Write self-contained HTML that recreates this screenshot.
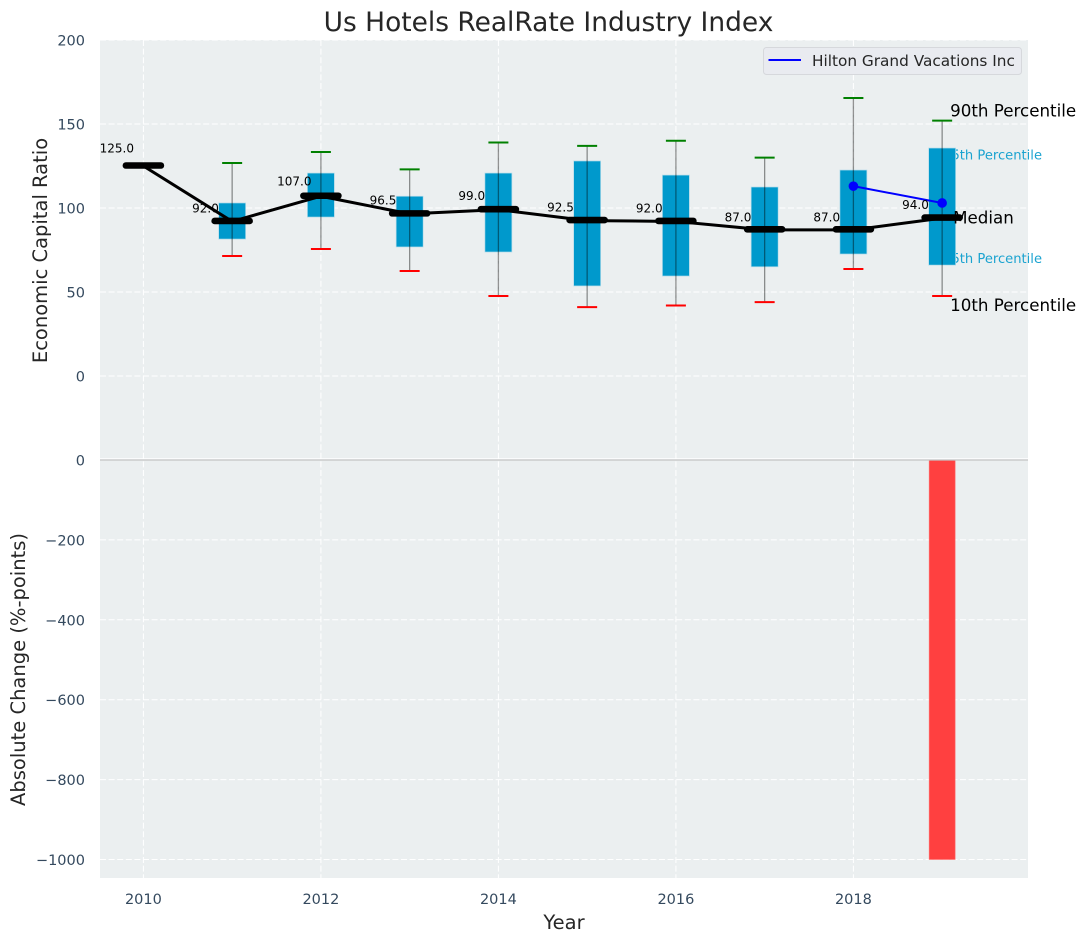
<!DOCTYPE html>
<html lang="en">
<head>
<meta charset="utf-8">
<title>Us Hotels RealRate Industry Index</title>
<style>
html,body{margin:0;padding:0;background:#fff;width:1085px;height:942px;overflow:hidden}
svg{display:block;font-family:"DejaVu Sans","Liberation Sans",sans-serif}
</style>
</head>
<body>
<svg id="chart" width="1085" height="942" viewBox="0 0 1085 942" xmlns="http://www.w3.org/2000/svg">
  <rect x="100" y="40" width="928" height="419.5" fill="#ebeff0"/>
  <rect x="100" y="459.5" width="928" height="418.5" fill="#ebeff0"/>
  <g id="grid"></g>
  <g id="annotations-under"></g>
  <g id="marks"></g>
  <g id="labels"></g>
  <g id="ticks"></g>
  <text x="548.5" y="31" font-size="26.45" fill="#262626" text-anchor="middle">Us Hotels RealRate Industry Index</text>
  <text transform="translate(47,250.5) rotate(-90)" font-size="19.5" fill="#262626" text-anchor="middle">Economic Capital Ratio</text>
  <text transform="translate(25,669.5) rotate(-90)" font-size="19.5" fill="#262626" text-anchor="middle">Absolute Change (%-points)</text>
  <text x="564" y="929" font-size="19.5" fill="#262626" text-anchor="middle">Year</text>
  <g>
    <rect x="763.5" y="47.5" width="258" height="27" rx="3" fill="#e9ebf0" stroke="#d6d8dc" stroke-width="1"/>
    <line x1="768.5" y1="60" x2="801" y2="60" stroke="#0000ff" stroke-width="2"/>
    <text x="812" y="66" font-size="15.3" fill="#262626">Hilton Grand Vacations Inc</text>
  </g>
</svg>
<script>
const years = [2010, 2011, 2012, 2013, 2014, 2015, 2016, 2017, 2018, 2019];
const medians = [125, 92, 107, 96.5, 99, 92.5, 92, 87, 87, 94];
const p90 = [null, 126.8, 133.3, 123, 139, 137, 140, 130, 165.5, 152];
const p75 = [null, 103, 120.8, 107, 120.8, 128, 119.6, 112.5, 122.6, 135.7];
const p25 = [null, 81.5, 94.6, 76.8, 73.8, 53.6, 59.5, 65, 72.6, 66];
const p10 = [null, 71.4, 75.6, 62.5, 47.6, 41, 42, 44, 63.7, 47.6];
const hiltonYears = [2018, 2019];
const hiltonValues = [113, 103];
const changeYears = [2019];
const changeValues = [-1000];
const xTicks = [2010, 2012, 2014, 2016, 2018];
const topYTicks = [200, 150, 100, 50, 0];
const bottomYTicks = [0, -200, -400, -600, -800, -1000];
const annotationNames = ['90th Percentile', '75th Percentile', 'Median', '25th Percentile', '10th Percentile'];
const annotationValues = [157.7, 131.5, 94, 70, 42];

const NS = 'http://www.w3.org/2000/svg';
const xAxis = v => 143.4 + (v - 2010) * 88.75;
const yTop = v => 376 - v * 1.68;
const yChange = v => 460 - v * 0.3995;
const gridG = document.getElementById('grid');
const underG = document.getElementById('annotations-under');
const marksG = document.getElementById('marks');
const labelsG = document.getElementById('labels');
const ticksG = document.getElementById('ticks');
const gridDash = '6 2.6';

function add(parent, tag, attrs, text) {
  const el = document.createElementNS(NS, tag);
  for (const k in attrs) el.setAttribute(k, attrs[k]);
  if (text !== undefined) el.textContent = text;
  parent.appendChild(el);
  return el;
}

/* grid */
xTicks.forEach(t => {
  const g = add(gridG, 'line', {x1: xAxis(t), x2: xAxis(t), y1: 40, y2: 878, stroke: '#fff', 'stroke-width': 1, 'stroke-dasharray': gridDash});
  
  
  const lab = add(ticksG, 'text', {x: xAxis(t), y: 904, 'font-size': 14.5, fill: '#34495e', 'text-anchor': 'middle'}, String(t));
  
  
});
topYTicks.forEach(t => {
  const g = add(gridG, 'line', {x1: 100, x2: 1028, y1: yTop(t), y2: yTop(t), stroke: '#fff', 'stroke-width': 1, 'stroke-dasharray': gridDash});
  
  
  const lab = add(ticksG, 'text', {x: 85, y: yTop(t) + 5.5, 'font-size': 14.5, fill: '#34495e', 'text-anchor': 'end'}, String(t));
  
  
});
bottomYTicks.forEach(t => {
  const y = yChange(t);
  const g = add(gridG, 'line', {x1: 100, x2: 1028, y1: y, y2: y, stroke: '#fff', 'stroke-width': 1, 'stroke-dasharray': gridDash});
  
  
  const lab = add(ticksG, 'text', {x: 85, y: y + 5.5, 'font-size': 14.5, fill: '#34495e', 'text-anchor': 'end'}, String(t).replace('-', '\u2212'));
  
  
});

/* annotations sitting beneath the boxes */
annotationNames.forEach((name, i) => {
  const inner = i === 1 || i === 3;
  const t = add(inner ? underG : labelsG, 'text', {
    x: inner ? xAxis(2019) + 1 : (i === 2 ? xAxis(2019) + 11 : xAxis(2019) + 8),
    y: yTop(annotationValues[i]) + (inner ? 4.5 : 5.5),
    'font-size': inner ? 13.1 : 16.7,
    fill: inner ? '#1ba3d0' : '#000'
  }, name);
  
  
});

/* change bars */
changeYears.forEach((yr, i) => {
  const x = xAxis(yr);
  const top = yChange(0);
  const bot = yChange(changeValues[i]);
  const b = add(marksG, 'rect', {x: x - 13, y: Math.min(top, bot), width: 26, height: Math.abs(bot - top), fill: '#ff4040', stroke: '#ff7070', 'stroke-width': 0.6});
  
  
});

/* zero line of the lower panel */
const zeroGlow = add(marksG, 'line', {x1: 100, x2: 1028, y1: 458.7, y2: 458.7, stroke: '#fff', 'stroke-width': 1});


const zeroLine = add(marksG, 'line', {x1: 100, x2: 1028, y1: yChange(0), y2: yChange(0), stroke: '#c4c4c4', 'stroke-width': 1.2});



/* boxes and whiskers */
years.forEach((yr, i) => {
  if (p75[i] === null) return;
  const x = xAxis(yr);
  const box = add(marksG, 'rect', {x: x - 13.5, y: yTop(p75[i]), width: 27, height: yTop(p25[i]) - yTop(p75[i]), fill: '#0099cc', stroke: '#b5dcea', 'stroke-width': 0.7});
  
  
  const wh = add(marksG, 'line', {x1: x, x2: x, y1: yTop(p90[i]), y2: yTop(p10[i]), stroke: '#000', 'stroke-opacity': 0.42, 'stroke-width': 1.3});
  
  
  const capHi = add(marksG, 'line', {x1: x - 10, x2: x + 10, y1: yTop(p90[i]), y2: yTop(p90[i]), stroke: '#008000', 'stroke-width': 2});
  
  
  const capLo = add(marksG, 'line', {x1: x - 10, x2: x + 10, y1: yTop(p10[i]), y2: yTop(p10[i]), stroke: '#ff0000', 'stroke-width': 2});
  
  
});

/* median line */
const medianLine = add(marksG, 'polyline', {
  points: years.map((yr, i) => xAxis(yr) + ',' + yTop(medians[i])).join(' '),
  fill: 'none', stroke: '#000', 'stroke-width': 3, 'stroke-linejoin': 'round'
});



years.forEach((yr, i) => {
  const x = xAxis(yr);
  const y = yTop(medians[i]);
  const bar = add(marksG, 'line', {x1: x - 17.5, x2: x + 17.5, y1: y - 0.5, y2: y - 0.5, stroke: '#000', 'stroke-width': 6.6, 'stroke-linecap': 'round'});
  
  
  const lab = add(labelsG, 'text', {x: xAxis(yr - 0.3), y: yTop(medians[i] * 1.08) + 3.5, 'font-size': 12, fill: '#000', 'text-anchor': 'middle'}, medians[i].toFixed(1));
  
  
});

/* Hilton series */
const hiltonLine = add(marksG, 'polyline', {
  points: hiltonYears.map((yr, i) => xAxis(yr) + ',' + yTop(hiltonValues[i])).join(' '),
  fill: 'none', stroke: '#0000ff', 'stroke-width': 2
});


hiltonYears.forEach((yr, i) => {
  const c = add(marksG, 'circle', {cx: xAxis(yr), cy: yTop(hiltonValues[i]), r: 4.8, fill: '#0000ff'});
  
  
});
</script>
</body>
</html>
